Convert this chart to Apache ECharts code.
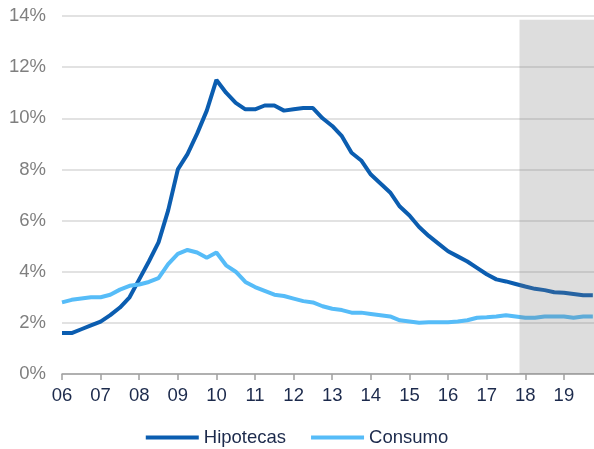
<!DOCTYPE html>
<html>
<head>
<meta charset="utf-8">
<script src="https://cdn.jsdelivr.net/npm/echarts@6/dist/echarts.min.js"></script>
<style>
  html, body { margin: 0; padding: 0; background: #fff; }
  #chart { width: 594px; height: 449px; }
</style>
</head>
<body>
<div id="chart"></div>
<script>
// trimestres desde 2006 (en años decimales)
const quarters = []
for (let y = 2006; y <= 2019; y++) {
  quarters.push(y, y + 0.25, y + 0.5, y + 0.75)
}
const years = [2006, 2007, 2008, 2009, 2010, 2011, 2012, 2013, 2014, 2015, 2016, 2017, 2018, 2019]

// % tasa de dudosidad
const hipotecas = [
  1.6, 1.6, 1.75, 1.9,
  2.05, 2.3, 2.6, 3.0,
  3.7, 4.4, 5.15, 6.4,
  8.0, 8.6, 9.4, 10.3,
  11.5, 11.0, 10.6, 10.35,
  10.35, 10.5, 10.5, 10.3,
  10.35, 10.4, 10.4, 10.0,
  9.7, 9.3, 8.65, 8.35,
  7.8, 7.45, 7.1, 6.55,
  6.2, 5.75, 5.4, 5.1,
  4.8, 4.6, 4.4, 4.15,
  3.9, 3.7, 3.62, 3.52,
  3.42, 3.33, 3.28, 3.2,
  3.18, 3.13, 3.08, 3.08
]
const consumo = [
  2.8, 2.9, 2.95, 3.0,
  3.0, 3.1, 3.3, 3.45,
  3.5, 3.6, 3.75, 4.3,
  4.7, 4.85, 4.75, 4.55,
  4.75, 4.25, 4.0, 3.6,
  3.4, 3.25, 3.1, 3.05,
  2.95, 2.85, 2.8, 2.65,
  2.55, 2.5, 2.4, 2.4,
  2.35, 2.3, 2.25, 2.1,
  2.05, 2.0, 2.02, 2.02,
  2.02, 2.05, 2.1, 2.2,
  2.22, 2.25, 2.3, 2.25,
  2.2, 2.2, 2.25, 2.25,
  2.25, 2.2, 2.25, 2.25
]
const yTicks = [0, 2, 4, 6, 8, 10, 12, 14]
// zona sombreada (previsión)
const shadeFrom = 2017.85
const shadeTop = 13.85

const chart = echarts.init(document.getElementById('chart'))
const font = 'Liberation Sans, Arial, sans-serif'

const option = {
  animation: false,
  grid: { left: 62, right: 0, top: 16, bottom: 75 },
  legend: {
    bottom: 2,
    padding: 0,
    left: 'center',
    data: ['Hipotecas', 'Consumo'],
    icon: 'rect',
    itemWidth: 53,
    itemHeight: 4,
    itemGap: 25,
    textStyle: { color: '#1c2a4c', fontSize: 18.5, fontFamily: font }
  },
  xAxis: {
    type: 'value',
    min: 2006,
    max: 2019.78,
    interval: 1,
    splitLine: { show: false },
    axisLine: { lineStyle: { color: '#a0a0a0', width: 1.5 } },
    axisTick: {
      show: true,
      length: 6,
      customValues: years,
      lineStyle: { color: '#a0a0a0', width: 1.5 }
    },
    axisLabel: {
      customValues: years,
      color: '#1c2a4c',
      fontSize: 18.5,
      fontFamily: font,
      margin: 12,
      formatter: v => String(Math.round(v)).slice(2)
    }
  },
  yAxis: {
    type: 'value',
    min: 0,
    max: 14,
    interval: 2,
    axisLine: { show: false },
    axisTick: { show: false },
    axisLabel: {
      color: '#7f7f7f',
      fontSize: 18.5,
      fontFamily: font,
      margin: 16,
      formatter: '{value}%'
    },
    splitLine: { lineStyle: { color: '#d9d9d9', width: 1.5 } }
  },
  series: [
    {
      name: 'Hipotecas',
      type: 'line',
      symbol: 'none',
      color: '#0b5db0',
      lineStyle: { width: 4, color: '#0b5db0' },
      data: quarters.map((q, i) => [q, hipotecas[i]])
    },
    {
      name: 'Consumo',
      type: 'line',
      symbol: 'none',
      color: '#56bcf8',
      lineStyle: { width: 4, color: '#56bcf8' },
      data: quarters.map((q, i) => [q, consumo[i]])
    },
    {
      name: 'sombra',
      type: 'line',
      z: 10,
      data: [],
      markArea: {
        silent: true,
        z: 10,
        itemStyle: { color: 'rgba(120, 120, 120, 0.25)' },
        data: [[{ xAxis: shadeFrom, yAxis: 0 }, { xAxis: 2019.78, yAxis: shadeTop }]]
      }
    }
  ]
}
chart.setOption(option)
</script>
</body>
</html>
